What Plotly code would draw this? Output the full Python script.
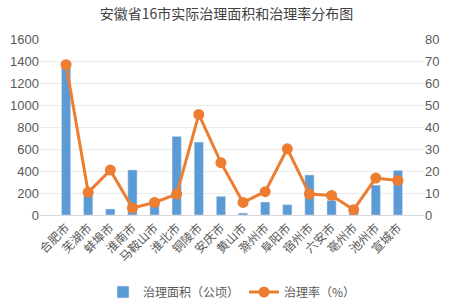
import plotly.graph_objects as go

cities = ["合肥市", "芜湖市", "蚌埠市", "淮南市", "马鞍山市", "淮北市", "铜陵市", "安庆市",
          "黄山市", "滁州市", "阜阳市", "宿州市", "六安市", "亳州市", "池州市", "宣城市"]
area = [1370, 205, 55, 410, 120, 715, 663, 170, 18, 118, 94, 364, 133, 65, 272, 406]
rate = [68.3, 10.3, 20.4, 3.2, 5.7, 9.5, 45.7, 23.8, 5.7, 10.6, 30.1, 9.5, 8.9, 2.4, 16.8, 15.7]

FONT = "Liberation Sans, Noto Sans CJK SC, sans-serif"
CJK = "Noto Sans CJK SC, sans-serif"

fig = go.Figure()
fig.add_trace(go.Bar(x=cities, y=area, name="治理面积（公顷）", marker_color="#5B9BD5",
                     width=0.42, yaxis="y"))
fig.add_trace(go.Scatter(x=cities, y=rate, name="治理率（%）", mode="lines+markers",
                         line=dict(color="#ED7D31", width=3),
                         marker=dict(color="#ED7D31", size=11), yaxis="y2"))

fig.update_layout(
    width=453, height=307,
    margin=dict(l=40, r=29, t=39, b=92),
    paper_bgcolor="white", plot_bgcolor="white",
    title=dict(text="安徽省16市实际治理面积和治理率分布图", x=0.5, xanchor="center",
               yref="container", y=1 - 14 / 307, yanchor="middle",
               font=dict(family=CJK, size=14, color="#404040")),
    font=dict(family=FONT, size=12, color="#595959"),
    xaxis=dict(tickangle=-45, tickfont=dict(family=CJK, size=12, color="#595959"),
               showgrid=False, showline=True, linecolor="#D9D9D9", ticks="",
               automargin=False),
    yaxis=dict(range=[0, 1600], dtick=200, showgrid=True, gridcolor="#EBEBEB",
               zeroline=False, tickfont=dict(size=13, color="#595959"), ticks="",
               automargin=False),
    yaxis2=dict(range=[0, 80], dtick=10, overlaying="y", side="right", showgrid=False,
                zeroline=False, tickfont=dict(size=13, color="#595959"), ticks="",
                automargin=False),
    legend=dict(orientation="h", x=0.5, xanchor="center", yref="container",
                y=1 - 292 / 307, yanchor="middle",
                font=dict(family=CJK, size=12, color="#595959")),
    showlegend=True,
)

fig.write_html("out.html", config={"displayModeBar": False},
               post_script="document.body.style.margin='0';document.body.style.overflow='hidden';")
